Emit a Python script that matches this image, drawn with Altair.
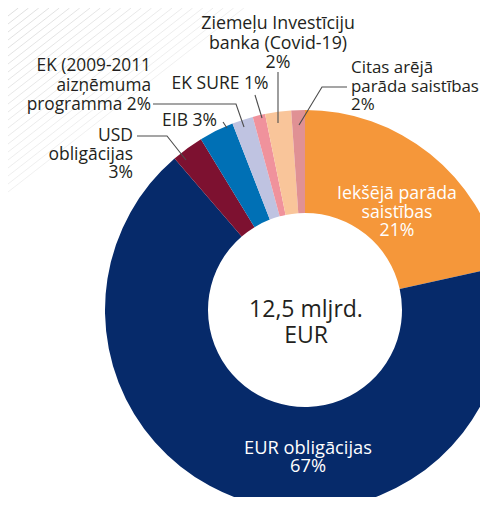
import altair as alt
import pandas as pd

# ---- data ----
categories = [
    "Iekšējā parāda saistības",
    "EUR obligācijas",
    "USD obligācijas",
    "EIB",
    "EK (2009-2011 aizņēmuma programma",
    "EK SURE",
    "Ziemeļu Investīciju banka (Covid-19)",
    "Citas arējā parāda saistības",
]
shares = [21.5, 67.1, 2.6, 2.8, 1.7, 1.0, 2.1, 1.1]
colors = ["#F5973A", "#062A6A", "#7D1130", "#0070B5", "#BFC3E1", "#F0929C", "#F9C59A", "#E09194"]
label_texts = [
    "Iekšējā parāda\nsaistības\n21%",
    "EUR obligācijas\n67%",
    "USD\nobligācijas\n3%",
    "EIB 3%",
    "EK (2009-2011\naizņēmuma\nprogramma 2%",
    "EK SURE 1%",
    "Ziemeļu Investīciju\nbanka (Covid-19)\n2%",
    "Citas arējā\nparāda saistības\n2%",
]
center_text = "12,5 mljrd.\nEUR"

# ---- layout (page pixel positions) ----
M = 8  # page margin
CX, CY = 305, 310
R_OUT, R_IN = 200, 97
FONT = "Open Sans"

label_pos = {  # x, y of first line, align, color, line height, font size
    0: (397, 194, "center", "white", 18.5, 17.7),
    1: (308, 449, "center", "white", 18, 18.3),
    2: (133, 136, "right", "#231F20", 18.5, 17.5),
    3: (217, 121, "right", "#231F20", 19, 17.5),
    4: (151, 66, "right", "#231F20", 19.5, 17.3),
    5: (220, 84, "center", "#231F20", 19, 17.5),
    6: (278, 24, "center", "#231F20", 19.5, 17.8),
    7: (351, 68, "left", "#231F20", 18.5, 16.9),
}
leaders = {
    2: [(186, 160), (167, 136), (137, 136)],
    3: [(227, 128), (223, 122)],
    4: [(244, 127), (236, 104), (153, 104)],
    5: [(262, 118), (255, 95)],
    6: [(278, 123), (278, 72)],
    7: [(299, 125), (322, 87), (347, 87)],
}

W, H = 472, 489

slices = pd.DataFrame({"cat": categories, "share": shares, "ord": list(range(len(categories)))})

donut = alt.Chart(slices).mark_arc(
    innerRadius=R_IN, outerRadius=R_OUT, clip=True
).encode(
    theta=alt.Theta("share:Q", stack=True),
    order=alt.Order("ord:Q"),
    color=alt.Color("cat:N", scale=alt.Scale(domain=categories, range=colors), legend=None),
    x=alt.value(CX - M),
    y=alt.value(CY - M),
)

# decorative faint hatch in the top-left corner
hatch_rows = []
for i, c in enumerate(range(0, 192, 8)):
    slope = 0.78
    hatch_rows.append({"id": i, "x": 0, "y": c, "x2": c / slope, "y2": 0,
                       "op": 1 - 0.55 * c / 192})
hatch = alt.Chart(pd.DataFrame(hatch_rows)).mark_rule(color="#d6d6d6", strokeWidth=0.8).encode(
    x=alt.X("x:Q", scale=None, axis=None),
    y=alt.Y("y:Q", scale=None, axis=None),
    x2="x2:Q",
    y2="y2:Q",
    opacity=alt.Opacity("op:Q", scale=None, legend=None),
)

lead_rows = []
for k, pts in leaders.items():
    for j, (px, py) in enumerate(pts):
        lead_rows.append({"id": k, "j": j, "x": px - M, "y": py - M})
lead = alt.Chart(pd.DataFrame(lead_rows)).mark_line(color="#4d4d4d", strokeWidth=1.1).encode(
    x=alt.X("x:Q", scale=None, axis=None),
    y=alt.Y("y:Q", scale=None, axis=None),
    detail="id:N",
    order="j:Q",
)

text_layers = []
for k, (px, py, al, col, lh, fs) in label_pos.items():
    df = pd.DataFrame({"t": [label_texts[k]], "x": [px - M], "y": [py - M]})
    text_layers.append(
        alt.Chart(df).mark_text(
            align=al, baseline="middle", lineBreak="\n", lineHeight=lh,
            fontSize=fs, font=FONT, color=col
        ).encode(
            x=alt.X("x:Q", scale=None, axis=None),
            y=alt.Y("y:Q", scale=None, axis=None),
            text="t:N",
        )
    )

center = alt.Chart(pd.DataFrame({"t": [center_text], "x": [306 - M], "y": [310 - M]})).mark_text(
    align="center", baseline="middle", lineBreak="\n", lineHeight=26,
    fontSize=23, font=FONT, color="#231F20"
).encode(
    x=alt.X("x:Q", scale=None, axis=None),
    y=alt.Y("y:Q", scale=None, axis=None),
    text="t:N",
)

chart = alt.layer(hatch, donut, lead, *text_layers, center).properties(
    width=W, height=H, autosize=alt.AutoSizeParams(type="none"), padding=0
).configure_view(stroke=None)

chart.save("out.html", embed_options={"renderer": "svg", "actions": False})
